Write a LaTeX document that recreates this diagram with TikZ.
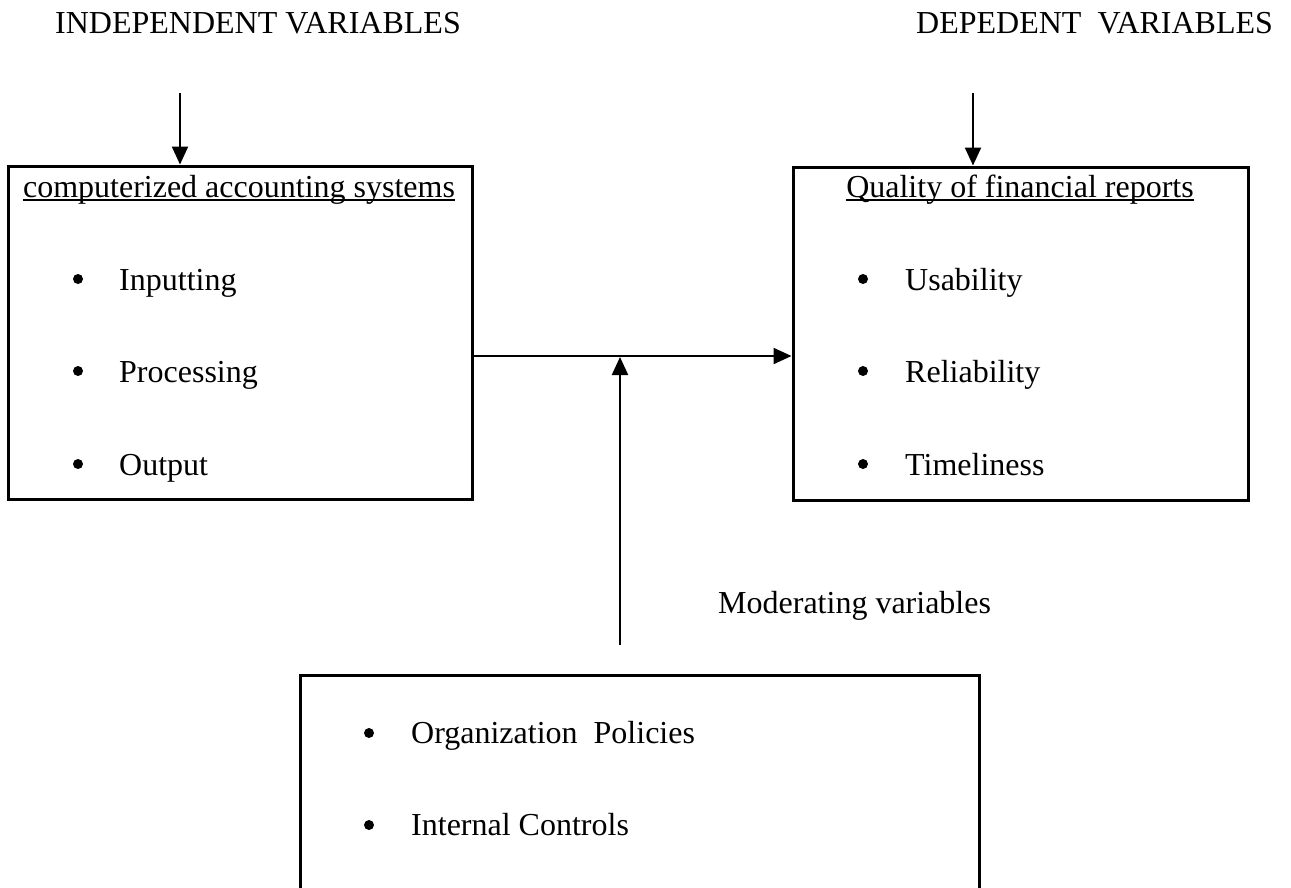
\documentclass[tikz,border=0pt]{standalone}
\usepackage{fontspec}
\setmainfont{Liberation Serif}
\usetikzlibrary{arrows.meta}
\begin{document}
\begin{tikzpicture}[x=1pt,y=-1pt,
  frame/.style={draw, line width=3pt, inner sep=0pt},
  txt/.style={font=\fontsize{32}{38}\selectfont, inner sep=0pt, anchor=base west},
  ttl/.style={font=\fontsize{32}{38}\selectfont, inner sep=0pt, anchor=base},
  bul/.style={circle, fill=black, inner sep=0pt, minimum size=10pt},
  uline/.style={line width=1.5pt},
  link/.style={line width=2.2pt, -{Triangle[length=18pt,width=16pt]}}]
\useasboundingbox (0,0) rectangle (1291,887);
\clip (0,0) rectangle (1291,887);

% headings
\node[txt] (indep) at (55,33) {INDEPENDENT VARIABLES};
\node[txt] (dep) at (916,33) {DEPEDENT~~VARIABLES};

% the three boxes
\node[frame, minimum width=464pt, minimum height=333pt] (lbox) at (240,332.5) {};
\node[frame, minimum width=455pt, minimum height=333pt] (rbox) at (1020.5,333.5) {};
\node[frame, minimum width=679pt, minimum height=300pt] (mbox) at (639.5,825) {};

% box titles, underlined
\node[ttl] (ltitle) at (239,197) {computerized accounting systems};
\node[ttl] (rtitle) at (1020,197) {Quality of financial reports};
\draw[uline] ([yshift=-3pt]ltitle.base west) -- ([yshift=-3pt]ltitle.base east);
\draw[uline] ([yshift=-3pt]rtitle.base west) -- ([yshift=-3pt]rtitle.base east);

% items of the independent variable
\node[bul] (lb1) at (78,279) {};
\node[txt] (li1) at (119,290) {Inputting};
\node[bul] (lb2) at (78,371) {};
\node[txt] (li2) at (119,382) {Processing};
\node[bul] (lb3) at (78,464) {};
\node[txt] (li3) at (119,475) {Output};

% items of the dependent variable
\node[bul] (rb1) at (863,279) {};
\node[txt] (ri1) at (905,290) {Usability};
\node[bul] (rb2) at (863,371) {};
\node[txt] (ri2) at (905,382) {Reliability};
\node[bul] (rb3) at (863,464) {};
\node[txt] (ri3) at (905,475) {Timeliness};

% moderating variables
\node[txt] (modlabel) at (718,613) {Moderating variables};
\node[bul] (mb1) at (369,733) {};
\node[txt] (mi1) at (411,743) {Organization~~Policies};
\node[bul] (mb2) at (369,825) {};
\node[txt] (mi2) at (411,835) {Internal Controls};

% connectors
\coordinate (ltail) at (180,93);
\coordinate (rtail) at (973,93);
\coordinate (flow) at (0,356);
\coordinate (modtail) at (620,645);
\draw[link] (ltail) -- (ltail |- lbox.north);
\draw[link] (rtail) -- (rtail |- rbox.north);
\draw[link] (flow -| lbox.east) -- (flow -| rbox.west);
\draw[link, shorten >=1pt] (modtail) -- (modtail |- flow);
\end{tikzpicture}
\end{document}
